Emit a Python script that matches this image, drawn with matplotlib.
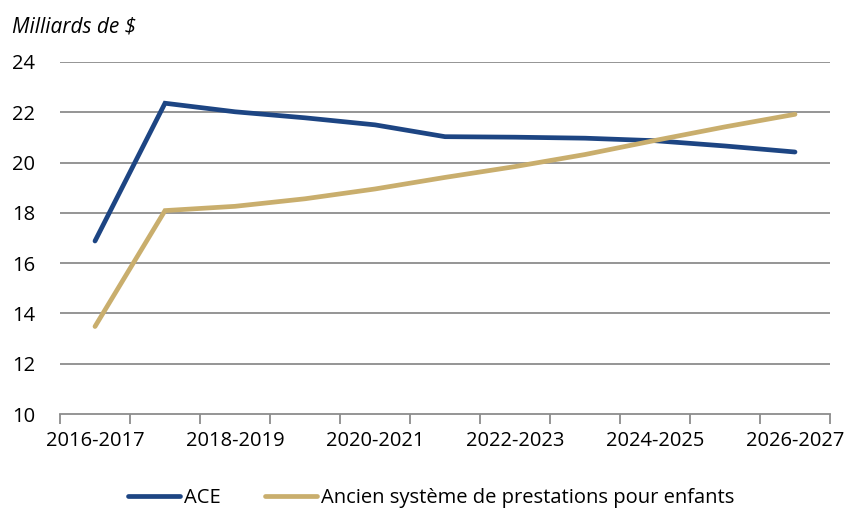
import matplotlib
matplotlib.use("Agg")
import matplotlib.pyplot as plt
from matplotlib.ticker import FixedLocator, NullFormatter

# Fiscal years on the x axis
years = [
    "2016-2017", "2017-2018", "2018-2019", "2019-2020", "2020-2021", "2021-2022",
    "2022-2023", "2023-2024", "2024-2025", "2025-2026", "2026-2027",
]
# Billions of dollars
ace = [16.88, 22.36, 22.02, 21.78, 21.50, 21.03, 21.01, 20.97, 20.87, 20.66, 20.42]
ancien = [13.48, 18.09, 18.26, 18.56, 18.95, 19.41, 19.84, 20.32, 20.88, 21.42, 21.92]

y_ticks = [10, 12, 14, 16, 18, 20, 22, 24]

BLUE = "#1d4583"
GOLD = "#c9ae6d"
GRID = "#8c8c8c"
FS = 14.5

plt.rcParams["font.family"] = ["Open Sans", "DejaVu Sans"]

fig = plt.figure(figsize=(8.47, 5.12), dpi=100)
ax = fig.add_axes([60 / 847, 1 - 414 / 512, 770 / 847, 352 / 512])

x = list(range(len(years)))
ax.plot(x, ace, color=BLUE, lw=3.4, solid_capstyle="round", solid_joinstyle="miter", label="ACE", zorder=3)
ax.plot(x, ancien, color=GOLD, lw=3.4, solid_capstyle="round", solid_joinstyle="miter",
        label="Ancien système de prestations pour enfants", zorder=3)

ax.set_ylim(10, 24)
ax.set_xlim(-0.5, len(years) - 0.5)
ax.set_yticks(y_ticks)
for v in y_ticks[1:]:
    ax.axhline(v, color=GRID, lw=1.3, zorder=1)

# tick marks sit on category boundaries, labels on every other category
ax.xaxis.set_major_locator(FixedLocator([i - 0.5 for i in range(len(years) + 1)]))
ax.xaxis.set_major_formatter(NullFormatter())
ax.set_xticks(x[::2], minor=True)
ax.set_xticklabels(years[::2], minor=True)
ax.tick_params(axis="x", which="major", length=7, width=1.3, color=GRID, direction="out")
ax.tick_params(axis="x", which="minor", length=0, pad=12, labelsize=FS)
ax.tick_params(axis="y", length=0, pad=34.5, labelsize=FS)
for lab in ax.get_yticklabels():
    lab.set_horizontalalignment("left")

for side in ("left", "right", "top"):
    ax.spines[side].set_visible(False)
ax.spines["bottom"].set_color(GRID)
ax.spines["bottom"].set_linewidth(1.3)

fig.text(12 / 847, 1 - 27 / 512, "Milliards de $", fontsize=15, style="italic", va="center", ha="left")

fig.legend(loc="lower center", bbox_to_anchor=(0.509, -0.028), ncol=2, frameon=False,
           fontsize=FS, handlelength=2.6, handletextpad=0.2, columnspacing=2.2)

fig.savefig("out.png", dpi=100)
